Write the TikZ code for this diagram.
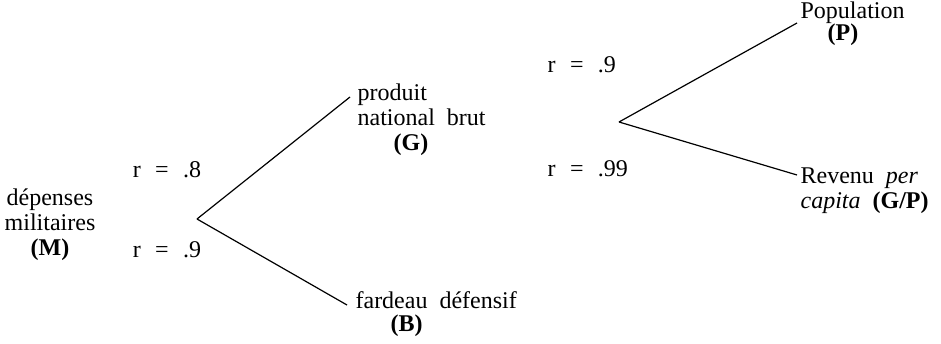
\documentclass[tikz,border=0pt]{standalone}
\usepackage{fontspec}
\setmainfont{Liberation Serif}
\usetikzlibrary{positioning}

\newcommand{\req}[1]{r\hspace{.6em}=\hspace{.6em}#1}
\newcommand{\lblfont}{\fontsize{24}{25}\selectfont\spaceskip=.5em plus .1em\relax}

\begin{document}
\begin{tikzpicture}[x=1pt, y=-1pt, line width=1.2pt,
    lbl/.style={inner sep=0pt, align=left, font=\lblfont}]
    \useasboundingbox (0,0) rectangle (941,344);
    % first fork (base = last line)
    \node[lbl, align=center, anchor=base] (M) at (50,256) {dépenses\\militaires\\\textbf{(M)}};
    \coordinate (vM) at (197,219);
    \coordinate (eG) at (350,97);
    \coordinate (eB) at (347,305);
    \node[lbl, anchor=base] (r8) at (167,178) {\req{.8}};
    \node[lbl, anchor=base] (r9) at (167,258) {\req{.9}};
    \node[lbl, anchor=base west] (G) at (357,151) {produit\\national brut\\\hspace*{36pt}\textbf{(G)}};
    \node[lbl, anchor=base west] (B) at (355,331) {fardeau défensif\\[-2pt]\hspace*{35pt}\textbf{(B)}};
    \draw (vM)--(eG) (vM)--(eB);
    % second fork
    \coordinate (vP) at (619,122);
    \coordinate (eP) at (797,23);
    \coordinate (eR) at (797,175);
    \node[lbl, anchor=base west] (rP) at (547,73) {\req{.9}};
    \node[lbl, anchor=base west] (rR) at (547,177) {\req{.99}};
    \node[lbl, anchor=base west] (P) at (800,41) {Population\\[-3pt]\hspace*{27pt}\textbf{(P)}};
    \node[lbl, anchor=base west] (R) at (800,209) {Revenu \textit{per}\\\textit{capita} \textbf{(G/P)}};
    \draw (vP)--(eP) (vP)--(eR);
\end{tikzpicture}
\end{document}
